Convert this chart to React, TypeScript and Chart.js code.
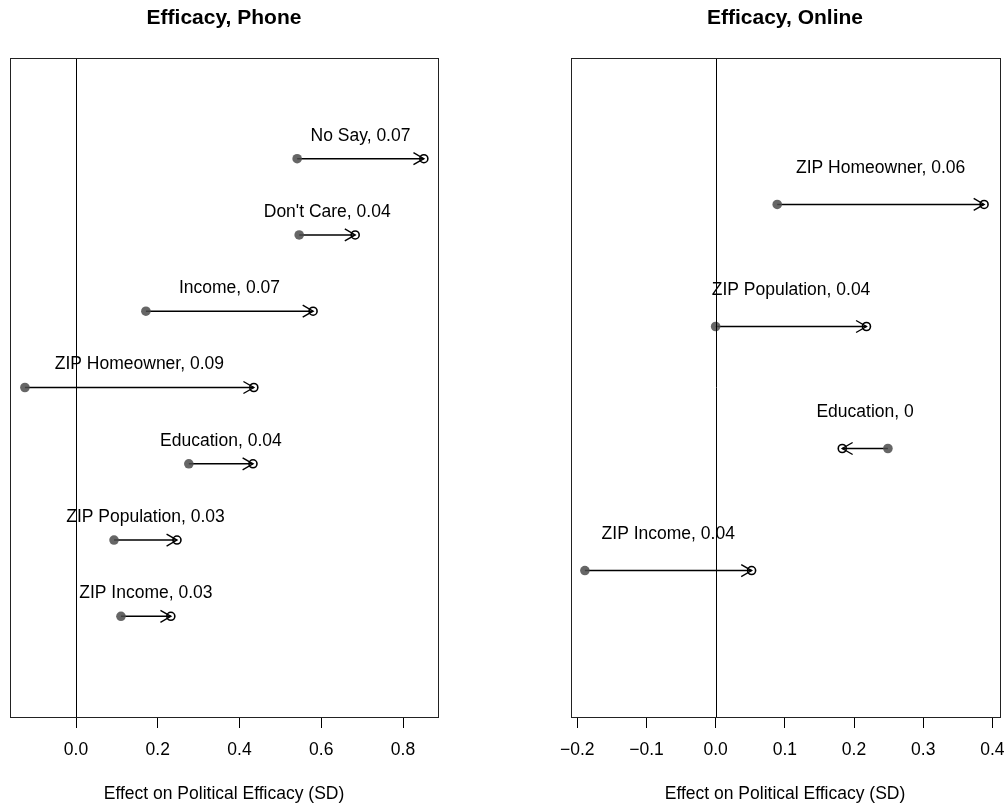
import React, { useEffect, useRef } from "react";
import { Chart, registerables } from "chart.js";

Chart.register(...registerables);

const FONT = "'Liberation Sans', Arial, Helvetica, sans-serif";

// ---- Phone panel data ----
const phoneLabels = [
  "No Say, 0.07",
  "Don't Care, 0.04",
  "Income, 0.07",
  "ZIP Homeowner, 0.09",
  "Education, 0.04",
  "ZIP Population, 0.03",
  "ZIP Income, 0.03",
];
const phoneRows = [7, 6, 5, 4, 3, 2, 1];
const phoneStart = [0.541, 0.546, 0.171, -0.125, 0.276, 0.093, 0.11];
const phoneEnd = [0.851, 0.683, 0.58, 0.435, 0.433, 0.247, 0.232];
const phoneTicks = [0, 0.2, 0.4, 0.6, 0.8];

// ---- Online panel data ----
const onlineLabels = [
  "ZIP Homeowner, 0.06",
  "ZIP Population, 0.04",
  "Education, 0",
  "ZIP Income, 0.04",
];
const onlineRows = [4, 3, 2, 1];
const onlineStart = [0.089, 0.0, 0.249, -0.189];
const onlineEnd = [0.388, 0.218, 0.183, 0.052];
const onlineTicks = [-0.2, -0.1, 0, 0.1, 0.2, 0.3, 0.4];

const xTitle = "Effect on Political Efficacy (SD)";

type Panel = {
  title: string;
  labels: string[];
  rows: number[];
  start: number[];
  end: number[];
  ticks: number[];
  xmin: number;
  xmax: number;
  ymin: number;
  ymax: number;
  padLeft: number;
  padRight: number;
};

const panels: Panel[] = [
  {
    title: "Efficacy, Phone",
    labels: phoneLabels,
    rows: phoneRows,
    start: phoneStart,
    end: phoneEnd,
    ticks: phoneTicks,
    xmin: -0.1615,
    xmax: 0.8856,
    ymin: -0.32,
    ymax: 8.32,
    padLeft: 10,
    padRight: 66,
  },
  {
    title: "Efficacy, Online",
    labels: onlineLabels,
    rows: onlineRows,
    start: onlineStart,
    end: onlineEnd,
    ticks: onlineTicks,
    xmin: -0.2095,
    xmax: 0.41,
    ymin: -0.2,
    ymax: 5.2,
    padLeft: 66.7,
    padRight: 8.7,
  },
];

const fmt = (v: number) =>
  (v < 0 ? "\u2212" : "") + Math.abs(v).toFixed(1);

const arrowPlugin = {
  id: "arrowDecor",
  afterDatasetsDraw(chart: any) {
    const p: Panel = chart.options.plugins.arrowDecor.panel;
    const ctx = chart.ctx;
    const xs = chart.scales.x;
    const ys = chart.scales.y;
    const area = chart.chartArea;
    ctx.save();
    // arrowheads
    ctx.strokeStyle = "#000";
    ctx.lineWidth = 1.4;
    p.rows.forEach((r, i) => {
      const x0 = xs.getPixelForValue(p.start[i]);
      const x1 = xs.getPixelForValue(p.end[i]);
      const y = ys.getPixelForValue(r);
      const dir = x1 >= x0 ? 1 : -1;
      const L = 12;
      const ang = (30 * Math.PI) / 180;
      ctx.beginPath();
      ctx.moveTo(x1 - dir * L * Math.cos(ang), y - L * Math.sin(ang));
      ctx.lineTo(x1, y);
      ctx.lineTo(x1 - dir * L * Math.cos(ang), y + L * Math.sin(ang));
      ctx.stroke();
    });
    // labels
    ctx.fillStyle = "#000";
    ctx.font = `17.5px ${FONT}`;
    ctx.textAlign = "center";
    ctx.textBaseline = "middle";
    p.rows.forEach((r, i) => {
      const xm = xs.getPixelForValue((p.start[i] + p.end[i]) / 2);
      const y = ys.getPixelForValue(r + 0.3);
      ctx.fillText(p.labels[i], xm, y);
    });
    // zero line
    const x0 = xs.getPixelForValue(0);
    ctx.beginPath();
    ctx.lineWidth = 1;
    ctx.moveTo(Math.round(x0) + 0.5, area.top);
    ctx.lineTo(Math.round(x0) + 0.5, area.bottom);
    ctx.stroke();
    // box
    ctx.strokeStyle = "#222";
    ctx.strokeRect(
      Math.round(area.left) + 0.5,
      Math.round(area.top) + 0.5,
      Math.round(area.right - area.left),
      Math.round(area.bottom - area.top)
    );
    // title
    ctx.font = `bold 21px ${FONT}`;
    ctx.fillStyle = "#000";
    ctx.textBaseline = "middle";
    ctx.fillText(p.title, (area.left + area.right) / 2, 18);
    ctx.restore();
  },
};

function PanelChart({ panel, left }: { panel: Panel; left: number }) {
  const ref = useRef<HTMLCanvasElement | null>(null);
  useEffect(() => {
    if (!ref.current) return;
    const starts = panel.rows.map((r, i) => ({ x: panel.start[i], y: r }));
    const ends = panel.rows.map((r, i) => ({ x: panel.end[i], y: r }));
    const segs = panel.rows.map((r, i) => ({
      data: [
        { x: panel.start[i], y: r },
        { x: panel.end[i], y: r },
      ],
      showLine: true,
      borderColor: "#000",
      borderWidth: 1.4,
      pointRadius: 0,
      fill: false,
    }));
    const chart = new Chart(ref.current, {
      type: "scatter",
      data: {
        datasets: [
          {
            data: starts,
            pointRadius: 4.8,
            pointBackgroundColor: "rgba(75,75,75,0.85)",
            pointBorderColor: "rgba(75,75,75,0.85)",
            pointBorderWidth: 0,
            showLine: false,
          },
          {
            data: ends,
            pointRadius: 4,
            pointBackgroundColor: "rgba(255,255,255,0)",
            pointBorderColor: "#000",
            pointBorderWidth: 1.6,
            showLine: false,
          },
          ...segs,
        ] as any,
      },
      options: {
        animation: false,
        responsive: false,
        devicePixelRatio: 1,
        layout: {
          padding: { left: panel.padLeft, right: panel.padRight, top: 58, bottom: 0 },
        },
        plugins: {
          legend: { display: false },
          tooltip: { enabled: false },
          arrowDecor: { panel },
        } as any,
        scales: {
          x: {
            type: "linear",
            min: panel.xmin,
            max: panel.xmax,
            afterBuildTicks: (s: any) => {
              s.ticks = panel.ticks.map((v) => ({ value: v }));
            },
            afterFit: (s: any) => {
              s.height = 89;
              s.paddingLeft = 0;
              s.paddingRight = 0;
            },
            ticks: {
              callback: (v: any) => fmt(Number(v)),
              color: "#000",
              font: { family: FONT, size: 17.5 },
              padding: 12,
              maxRotation: 0,
              autoSkip: false,
            },
            grid: {
              drawOnChartArea: false,
              drawTicks: true,
              tickLength: 11,
              color: "#000",
              lineWidth: 1,
            },
            border: { display: false },
            title: {
              display: true,
              text: xTitle,
              color: "#000",
              font: { family: FONT, size: 17.5 },
              padding: { top: 0, bottom: 1 },
            },
          },
          y: {
            type: "linear",
            min: panel.ymin,
            max: panel.ymax,
            display: false,
          },
        },
      } as any,
      plugins: [arrowPlugin],
    });
    return () => chart.destroy();
  }, [panel]);
  return (
    <div style={{ position: "absolute", left, top: 0, width: 504, height: 806 }}>
      <canvas ref={ref} width={504} height={806} style={{ width: 504, height: 806 }} />
    </div>
  );
}

export default function App() {
  return (
    <div
      style={{
        position: "absolute",
        left: 0,
        top: 0,
        width: 1008,
        height: 806,
        background: "#fff",
        overflow: "hidden",
      }}
    >
      <PanelChart panel={panels[0]} left={0} />
      <PanelChart panel={panels[1]} left={504} />
    </div>
  );
}
